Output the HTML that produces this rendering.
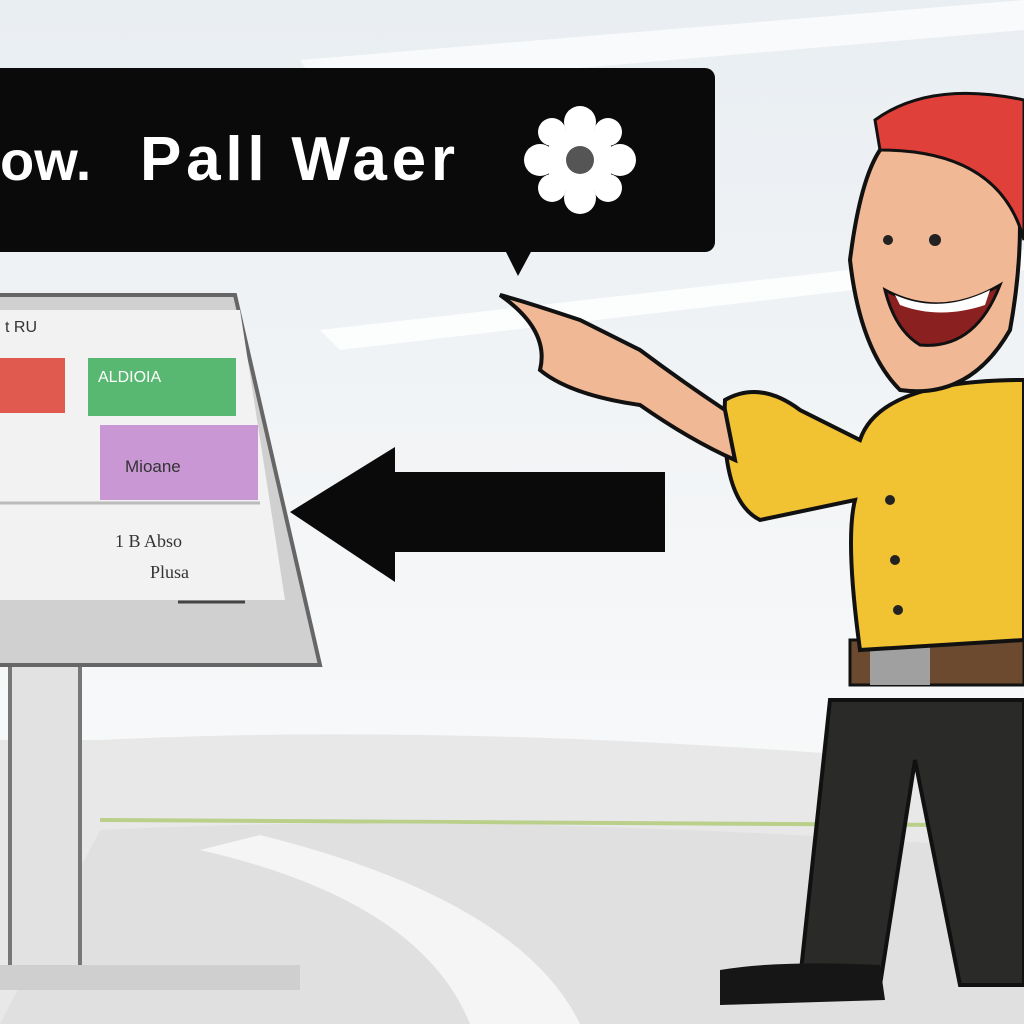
<!DOCTYPE html>
<html><head><style>html,body{margin:0;padding:0;background:#f4f4f4}svg{display:block}</style></head>
<body>
<svg width="1024" height="1024" viewBox="0 0 1024 1024" xmlns="http://www.w3.org/2000/svg">
<defs><linearGradient id="sky" x1="0" y1="0" x2="0" y2="1"><stop offset="0" stop-color="#e9eef2"/><stop offset="0.7" stop-color="#f7f8f9"/><stop offset="1" stop-color="#f5f5f5"/></linearGradient></defs>
<rect width="1024" height="1024" fill="url(#sky)"/>
<path d="M300 60 L1024 0 L1024 30 L320 90Z" fill="#fff" opacity="0.7"/>
<path d="M320 330 L1024 250 L1024 270 L340 350Z" fill="#fff" opacity="0.8"/>
<path d="M100 740 Q500 720 1024 770 L1024 1024 L0 1024 L0 740Z" fill="#e8e8e8"/>
<path d="M100 820 L950 825" stroke="#b9cf8a" stroke-width="4"/>
<path d="M100 830 Q500 810 1024 850 L1024 1024 L0 1024Z" fill="#e0e0e0"/>
<path d="M260 835 Q520 900 580 1024 L470 1024 Q420 900 200 850Z" fill="#f5f5f5"/>
<!-- bubble -->
<rect x="-10" y="68" width="725" height="184" rx="10" fill="#0a0a0a"/>
<path d="M505 250 L518 276 L532 250Z" fill="#0a0a0a"/>
<text x="0" y="180" font-family="Liberation Sans, sans-serif" font-weight="bold" font-size="56" fill="#fff">ow.</text>
<text x="140" y="180" font-family="Liberation Sans, sans-serif" font-weight="bold" font-size="62" fill="#fff" textLength="315">Pall Waer</text>
<g transform="translate(580,160)" fill="#fff">
<circle r="34"/><circle cx="0" cy="-38" r="16"/><circle cx="0" cy="38" r="16"/><circle cx="-40" cy="0" r="16"/><circle cx="40" cy="0" r="16"/><circle cx="-28" cy="-28" r="14"/><circle cx="28" cy="28" r="14"/><circle cx="28" cy="-28" r="14"/><circle cx="-28" cy="28" r="14"/>
<circle r="14" fill="#555"/></g>
<!-- monitor -->
<rect x="10" y="665" width="70" height="310" fill="#e2e2e2" stroke="#777" stroke-width="4"/>
<rect x="0" y="965" width="300" height="25" fill="#cfcfcf"/>
<path d="M-10 295 L235 295 L320 665 L-10 665Z" fill="#d0d0d0" stroke="#666" stroke-width="4"/>
<path d="M-5 310 L240 310 L285 600 L-5 600Z" fill="#f2f2f2"/>
<text x="5" y="332" font-family="Liberation Sans, sans-serif" font-size="16" fill="#333">t RU</text>
<rect x="0" y="358" width="65" height="55" fill="#e05a50"/>
<rect x="88" y="358" width="148" height="58" fill="#58b871"/>
<text x="98" y="382" font-family="Liberation Sans, sans-serif" font-size="16" fill="#fff">ALDIOIA</text>
<rect x="100" y="425" width="158" height="75" fill="#c997d4"/>
<text x="125" y="472" font-family="Liberation Sans, sans-serif" font-size="17" fill="#333">Mioane</text>
<text x="115" y="547" font-family="Liberation Serif, serif" font-size="18" fill="#333">1 B Abso</text>
<text x="150" y="578" font-family="Liberation Serif, serif" font-size="18" fill="#333">Plusa</text>
<line x1="0" y1="503" x2="260" y2="503" stroke="#bbb" stroke-width="3"/>
<line x1="178" y1="602" x2="245" y2="602" stroke="#444" stroke-width="3"/>
<!-- arrow -->
<path d="M290 512 L395 447 L395 472 L665 472 L665 552 L395 552 L395 582Z" fill="#0a0a0a"/>
<!-- man -->
<path d="M830 700 L800 980 L880 985 L915 760 L960 985 L1024 985 L1024 700Z" fill="#2a2a28" stroke="#111" stroke-width="4"/>
<path d="M720 970 Q780 960 880 965 L885 1000 L720 1005Z" fill="#161616"/>
<rect x="850" y="640" width="174" height="45" fill="#6b4a30" stroke="#111" stroke-width="3"/>
<rect x="870" y="645" width="60" height="40" fill="#a0a0a0"/>
<path d="M860 440 Q880 380 1024 380 L1024 640 L860 650 Q845 540 855 500 L760 520 Q720 500 725 400 Q760 380 800 410 L860 440Z" fill="#f1c232" stroke="#111" stroke-width="4"/>
<path d="M725 410 Q680 380 640 350 L580 320 Q520 300 500 295 Q550 330 540 370 Q570 395 640 405 Q690 440 735 460Z" fill="#f0b895" stroke="#111" stroke-width="4"/>
<path d="M880 150 Q940 100 1010 130 Q1030 220 1010 330 Q970 400 900 390 Q860 350 850 260 Q860 180 880 150Z" fill="#f0b895" stroke="#111" stroke-width="4"/>
<path d="M875 120 Q930 80 1024 100 L1024 240 Q1000 150 880 150Z" fill="#e0403a" stroke="#111" stroke-width="3"/>
<path d="M885 290 Q940 320 1000 285 Q975 350 920 345 Q895 330 885 290Z" fill="#8a2020" stroke="#111" stroke-width="3"/>
<path d="M895 295 Q940 315 990 290 L985 305 Q940 320 900 305Z" fill="#fff"/>
<circle cx="935" cy="240" r="6" fill="#222"/>
<circle cx="888" cy="240" r="5" fill="#222"/>
<circle cx="890" cy="500" r="5" fill="#222"/><circle cx="895" cy="560" r="5" fill="#222"/><circle cx="898" cy="610" r="5" fill="#222"/>
</svg>
</body></html>
